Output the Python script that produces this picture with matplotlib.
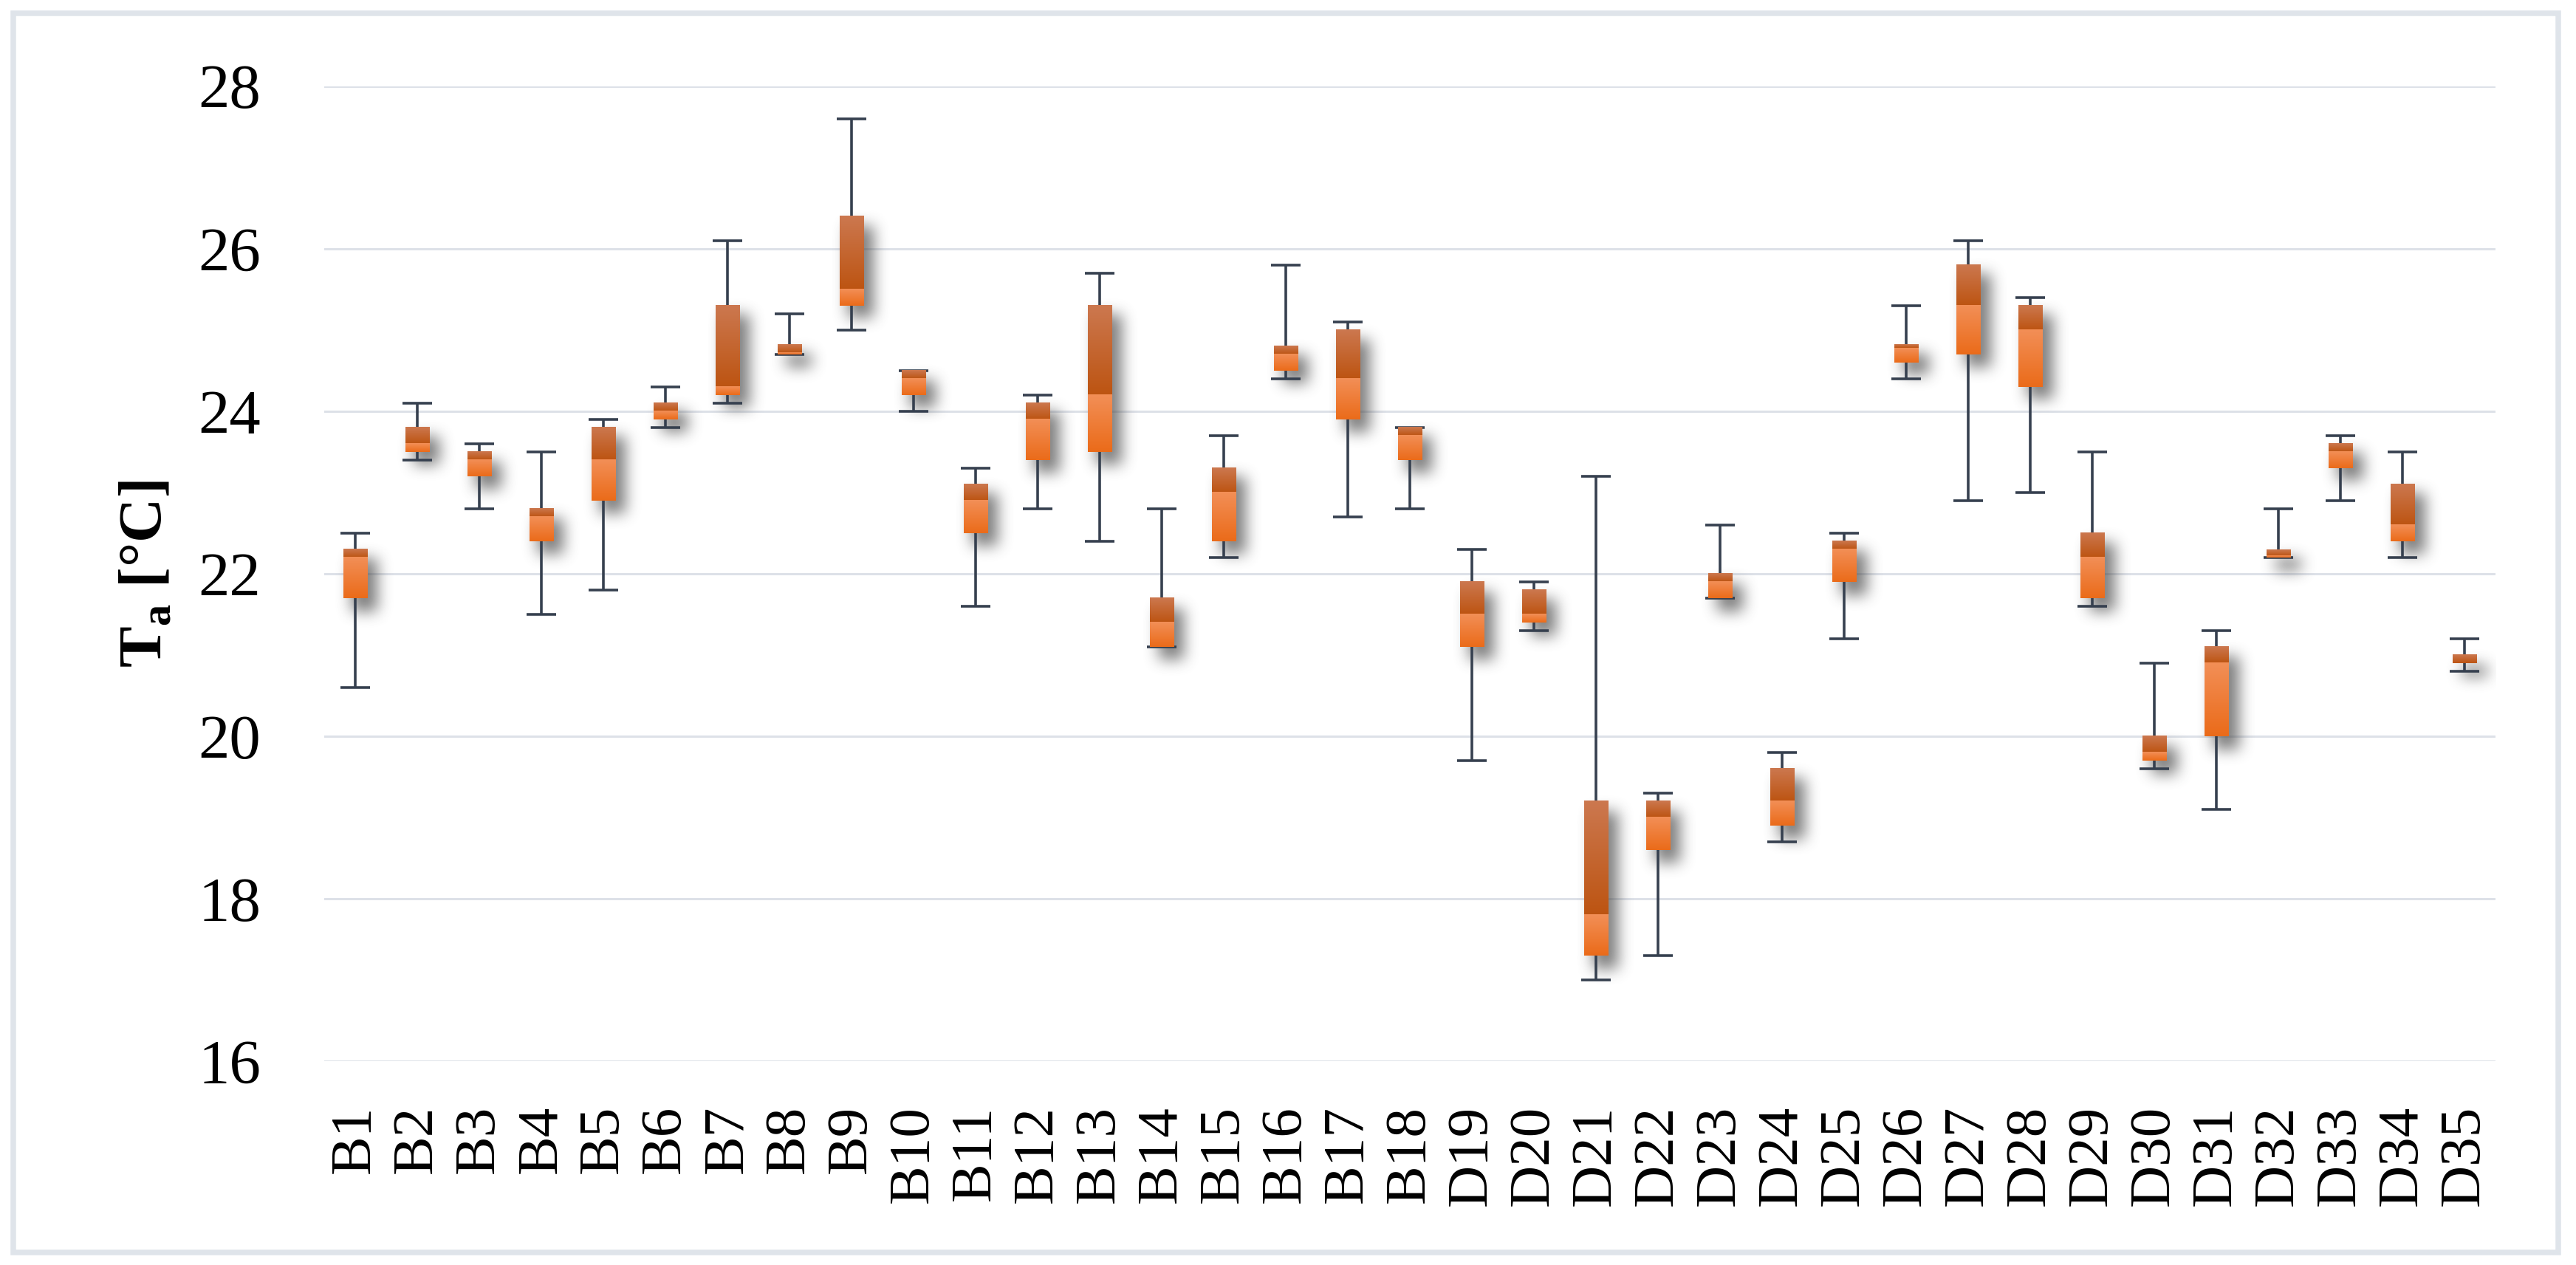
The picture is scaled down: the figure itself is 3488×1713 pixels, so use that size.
import numpy as np
import matplotlib
matplotlib.use('Agg')
from matplotlib import pyplot as plt
from matplotlib.patches import Rectangle

plt.rcParams['font.family'] = 'Liberation Serif'
plt.rcParams['mathtext.fontset'] = 'custom'
plt.rcParams['mathtext.rm'] = 'Liberation Serif'
plt.rcParams['mathtext.bf'] = 'Liberation Serif:bold'

LABELS = ['B1', 'B2', 'B3', 'B4', 'B5', 'B6', 'B7', 'B8', 'B9', 'B10', 'B11', 'B12',
          'B13', 'B14', 'B15', 'B16', 'B17', 'B18', 'D19', 'D20', 'D21', 'D22', 'D23',
          'D24', 'D25', 'D26', 'D27', 'D28', 'D29', 'D30', 'D31', 'D32', 'D33', 'D34', 'D35']

T_MIN = [20.6, 23.4, 22.8, 21.5, 21.8, 23.8, 24.1, 24.7, 25.0, 24.0, 21.6, 22.8,
         22.4, 21.1, 22.2, 24.4, 22.7, 22.8, 19.7, 21.3, 17.0, 17.3, 21.7,
         18.7, 21.2, 24.4, 22.9, 23.0, 21.6, 19.6, 19.1, 22.2, 22.9, 22.2, 20.8]
T_Q1 = [21.7, 23.5, 23.2, 22.4, 22.9, 23.9, 24.2, 24.7, 25.3, 24.2, 22.5, 23.4,
        23.5, 21.1, 22.4, 24.5, 23.9, 23.4, 21.1, 21.4, 17.3, 18.6, 21.7,
        18.9, 21.9, 24.6, 24.7, 24.3, 21.7, 19.7, 20.0, 22.2, 23.3, 22.4, 20.9]
T_MED = [22.2, 23.6, 23.4, 22.7, 23.4, 24.0, 24.3, 24.72, 25.5, 24.4, 22.9, 23.9,
         24.2, 21.4, 23.0, 24.7, 24.4, 23.7, 21.5, 21.5, 17.8, 19.0, 21.9,
         19.2, 22.3, 24.78, 25.3, 25.0, 22.2, 19.8, 20.9, 22.22, 23.5, 22.6, 20.9]
T_Q3 = [22.3, 23.8, 23.5, 22.8, 23.8, 24.1, 25.3, 24.82, 26.4, 24.5, 23.1, 24.1,
        25.3, 21.7, 23.3, 24.8, 25.0, 23.8, 21.9, 21.8, 19.2, 19.2, 22.0,
        19.6, 22.4, 24.82, 25.8, 25.3, 22.5, 20.0, 21.1, 22.3, 23.6, 23.1, 21.0]
T_MAX = [22.5, 24.1, 23.6, 23.5, 23.9, 24.3, 26.1, 25.2, 27.6, 24.5, 23.3, 24.2,
         25.7, 22.8, 23.7, 25.8, 25.1, 23.8, 22.3, 21.9, 23.2, 19.3, 22.6,
         19.8, 22.5, 25.3, 26.1, 25.4, 23.5, 20.9, 21.3, 22.8, 23.7, 23.5, 21.2]

Y_TICKS = [16, 18, 20, 22, 24, 26, 28]

BOX_W = 0.39
CAP_W = 0.48
WHISKER = '#36404f'
GRID = '#dde1e8'
UPPER = [(0.80, 0.47, 0.31), (0.74, 0.33, 0.07)]   # median -> Q3, top to bottom
LOWER = [(0.95, 0.56, 0.34), (0.92, 0.42, 0.10)]   # Q1 -> median, top to bottom


def gradient(top, bottom, n=64):
    t = np.linspace(0, 1, n)[:, None]
    return (np.array(top)[None, :] * (1 - t) + np.array(bottom)[None, :] * t)[:, None, :]


def blur1d(a, r, axis):
    a = np.moveaxis(a, axis, 0)
    p = np.pad(a, ((r + 1, r), (0, 0)))
    c = np.cumsum(p, axis=0)
    out = (c[2 * r + 1:] - c[:-2 * r - 1]) / (2 * r + 1)
    return np.moveaxis(out, 0, axis)


fig = plt.figure(figsize=(34.88, 17.13), dpi=100)
ax = fig.add_axes([0.1259, 0.1611, 0.8429, 0.7706])

x = np.arange(len(LABELS))
xlim = (-0.5, len(LABELS) - 0.5)
ylim = (16, 28)

# soft drop shadow behind the boxes
W, H = 2941, 1320
mask = np.zeros((H, W), dtype=np.float32)
for xi, lo, hi in zip(x, T_Q1, T_Q3):
    c0 = int(((xi - BOX_W / 2 - xlim[0]) / (xlim[1] - xlim[0])) * W) + 12
    c1 = int(((xi + BOX_W / 2 - xlim[0]) / (xlim[1] - xlim[0])) * W) + 14
    r0 = int((ylim[1] - hi) / (ylim[1] - ylim[0]) * H) + 14
    r1 = int((ylim[1] - lo) / (ylim[1] - ylim[0]) * H) + 18
    mask[max(r0, 0):min(r1, H), max(c0, 0):min(c1, W)] = 1.0
for _ in range(3):
    mask = blur1d(mask, 9, 0)
    mask = blur1d(mask, 9, 1)
shadow = np.zeros((H, W, 4), dtype=np.float32)
shadow[..., :3] = 0.28
shadow[..., 3] = np.clip(mask, 0, 1) * 0.7
ax.imshow(shadow, extent=(xlim[0], xlim[1], ylim[0], ylim[1]), origin='upper',
          aspect='auto', interpolation='nearest', zorder=1.5)

# whiskers and caps
ax.vlines(x, T_MIN, T_MAX, color=WHISKER, linewidth=2.6, zorder=2)
ax.hlines(T_MIN, x - CAP_W / 2, x + CAP_W / 2, color=WHISKER, linewidth=2.6, zorder=2)
ax.hlines(T_MAX, x - CAP_W / 2, x + CAP_W / 2, color=WHISKER, linewidth=2.6, zorder=2)

# boxes: two gradient segments
g_up = gradient(*UPPER)
g_lo = gradient(*LOWER)
for xi, q1, med, q3 in zip(x, T_Q1, T_MED, T_Q3):
    if q3 > med:
        ax.imshow(g_up, extent=(xi - BOX_W / 2, xi + BOX_W / 2, med, q3), origin='upper',
                  aspect='auto', interpolation='bilinear', zorder=3)
    if med > q1:
        ax.imshow(g_lo, extent=(xi - BOX_W / 2, xi + BOX_W / 2, q1, med), origin='upper',
                  aspect='auto', interpolation='bilinear', zorder=3)

ax.set_xlim(*xlim)
ax.set_ylim(*ylim)
ax.set_yticks(Y_TICKS)
ax.set_xticks(x)
ax.set_xticklabels(LABELS, rotation=90, fontsize=57)
ax.tick_params(axis='x', length=0, pad=43)
ax.tick_params(axis='y', length=0, pad=62, labelsize=61)
ax.grid(axis='y', color=GRID, linewidth=2.2, zorder=0.5)
ax.set_axisbelow(True)
for s in ax.spines.values():
    s.set_visible(False)

ax.text(-0.0816, 0.5, r'$\mathbf{T}_\mathbf{a}$ [°C]', rotation=90, ha='center', va='center',
        fontsize=60, fontweight='bold', transform=ax.transAxes)

fig.patches.append(Rectangle((18 / 3488, 1 - 1696 / 1713), 3446 / 3488, 1678 / 1713,
                             transform=fig.transFigure, fill=False, edgecolor='#dfe4ea',
                             linewidth=5.4, zorder=0))

fig.savefig('out.png', dpi=100)
